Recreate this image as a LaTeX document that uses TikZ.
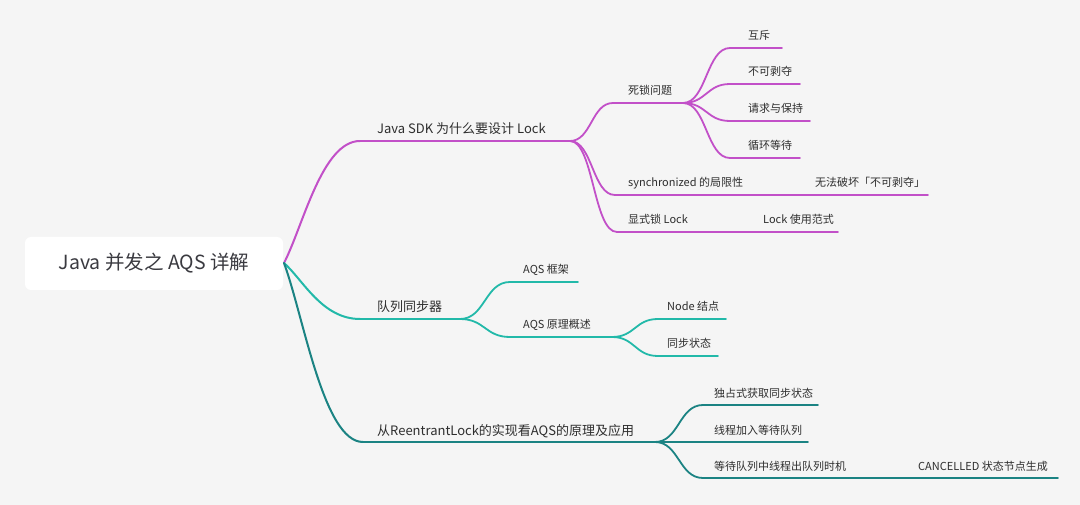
\documentclass[tikz,border=0pt]{standalone}
\usepackage{fontspec}
\newfontfamily\cjk{Noto Sans CJK SC}
\usetikzlibrary{calc}
\definecolor{bg}{HTML}{F5F5F5}
\definecolor{purp}{HTML}{C250C8}
\definecolor{teal1}{HTML}{22B9A9}
\definecolor{teal2}{HTML}{1B8383}
\definecolor{txt}{HTML}{2E2E2E}
\definecolor{roottxt}{HTML}{3A3A40}
\tikzset{
  lbl/.style={anchor=base west, inner sep=0pt, text=txt, font=\cjk\fontsize{11}{13}\selectfont},
  lbla/.style={anchor=base west, inner sep=0pt, text=txt, font=\cjk\fontsize{13}{15}\selectfont},
  br/.style={line width=2pt, line cap=round},
  sub/.style={line width=1.8pt, line cap=round},
}
\newcommand{\sig}[3]{\draw[#1] let \p1=(#2),\p2=(#3) in (#2) .. controls ({0.5*\x1+0.5*\x2},\y1) and ({0.5*\x1+0.5*\x2},\y2) .. (#3);}
\newcommand{\rootcurve}[3]{\draw[#1] let \p1=(#2),\p2=(#3) in (#2) .. controls ({\x1+0.25*(\x2-\x1)},{\y1+0.3*(\y2-\y1)}) and ({\x1+0.5*(\x2-\x1)},\y2) .. (#3);}
\begin{document}
\begin{tikzpicture}[x=1pt,y=-1pt]
\fill[bg] (0,0) rectangle (1080,505);
\useasboundingbox (0,0) rectangle (1080,505);

% root
\node[fill=white, rounded corners=6pt, minimum width=258pt, minimum height=53pt, inner sep=0pt,
      text=roottxt, font=\cjk\fontsize{19.5}{22}\selectfont] (root) at (154,263.5) {Java 并发之 AQS 详解};
\coordinate (r) at (284,263);

% level 1 coordinates
\coordinate (a0) at (360,141); \coordinate (a1) at (570,141);
\coordinate (b0) at (360,319); \coordinate (b1) at (460,319);
\coordinate (c0) at (363,442); \coordinate (c1) at (655,442);

\rootcurve{br,purp}{r}{a0}
\rootcurve{br,teal1}{r}{b0}
\rootcurve{br,teal2}{r}{c0}
\draw[br,purp] (a0) -- (a1);
\draw[br,teal1] (b0) -- (b1);
\draw[br,teal2] (c0) -- (c1);

\node[lbla] (ta) at (377,134) {Java SDK 为什么要设计 Lock};
\node[lbla] (tb) at (377,312) {队列同步器};
\node[lbla] (tc) at (377,435) {从ReentrantLock的实现看AQS的原理及应用};

% branch A
\coordinate (a10) at (613,103); \coordinate (a11) at (683,103);
\coordinate (a20) at (615,195); \coordinate (a21) at (800,195); \coordinate (a22) at (928,195);
\coordinate (a30) at (617,232); \coordinate (a31) at (750,232); \coordinate (a32) at (838,232);
\sig{sub,purp}{a1}{a10}
\sig{sub,purp}{a1}{a20}
\sig{sub,purp}{a1}{a30}
\draw[sub,purp] (a10) -- (a11);
\draw[sub,purp] (a20) -- (a21) -- (a22);
\draw[sub,purp] (a30) -- (a31) -- (a32);
\node[lbl] (ta1) at (628,95) {死锁问题};
\node[lbl] (ta2) at (628,187) {synchronized 的局限性};
\node[lbl] (ta21) at (815,187) {无法破坏「不可剥夺」};
\node[lbl] (ta3) at (628,224) {显式锁 Lock};
\node[lbl] (ta31) at (763,224) {Lock 使用范式};

\coordinate (d10) at (730,48);  \coordinate (d11) at (782,48);
\coordinate (d20) at (730,84);  \coordinate (d21) at (800,84);
\coordinate (d30) at (730,121); \coordinate (d31) at (810,121);
\coordinate (d40) at (730,158); \coordinate (d41) at (800,158);
\foreach \i in {1,2,3,4}{
  \sig{sub,purp}{a11}{d\i0}
  \draw[sub,purp] (d\i0) -- (d\i1);
}
\node[lbl] (td1) at (748,40) {互斥};
\node[lbl] (td2) at (748,76) {不可剥夺};
\node[lbl] (td3) at (748,113) {请求与保持};
\node[lbl] (td4) at (748,150) {循环等待};

% branch B
\coordinate (b10) at (510,282); \coordinate (b11) at (578,282);
\coordinate (b20) at (510,337); \coordinate (b21) at (612,337);
\sig{sub,teal1}{b1}{b10}
\sig{sub,teal1}{b1}{b20}
\draw[sub,teal1] (b10) -- (b11);
\draw[sub,teal1] (b20) -- (b21);
\node[lbl] (tb1) at (523,274) {AQS 框架};
\node[lbl] (tb2) at (523,329) {AQS 原理概述};
\coordinate (e10) at (658,319); \coordinate (e11) at (726,319);
\coordinate (e20) at (658,356); \coordinate (e21) at (718,356);
\sig{sub,teal1}{b21}{e10}
\sig{sub,teal1}{b21}{e20}
\draw[sub,teal1] (e10) -- (e11);
\draw[sub,teal1] (e20) -- (e21);
\node[lbl] (te1) at (667,311) {Node 结点};
\node[lbl] (te2) at (667,348) {同步状态};

% branch C
\coordinate (c10) at (703,405); \coordinate (c11) at (818,405);
\coordinate (c20) at (703,442); \coordinate (c21) at (808,442);
\coordinate (c30) at (703,478); \coordinate (c31) at (850,478); \coordinate (c32) at (1058,478);
\sig{sub,teal2}{c1}{c10}
\draw[sub,teal2] (c1) -- (c20);
\sig{sub,teal2}{c1}{c30}
\draw[sub,teal2] (c10) -- (c11);
\draw[sub,teal2] (c20) -- (c21);
\draw[sub,teal2] (c30) -- (c31) -- (c32);
\node[lbl] (tc1) at (714,397) {独占式获取同步状态};
\node[lbl] (tc2) at (714,434) {线程加入等待队列};
\node[lbl] (tc3) at (714,470) {等待队列中线程出队列时机};
\node[lbl] (tc31) at (918,470) {CANCELLED 状态节点生成};
\end{tikzpicture}
\end{document}
